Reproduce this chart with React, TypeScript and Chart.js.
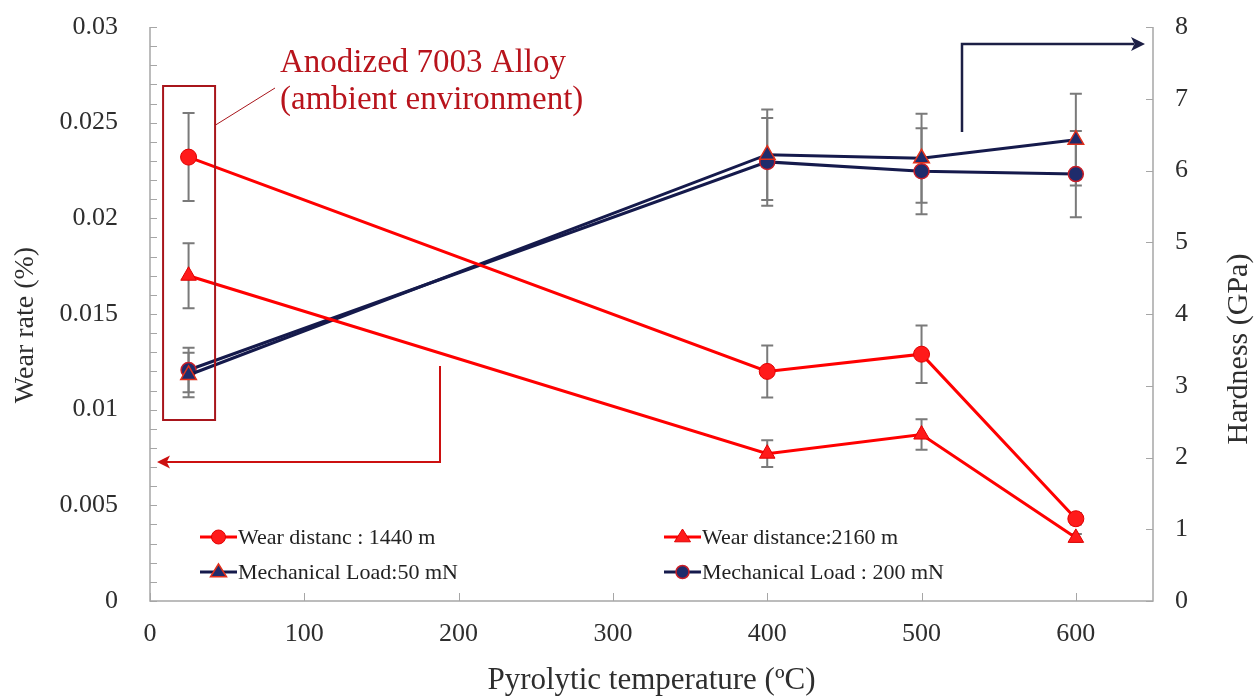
import React, { useEffect, useRef } from 'react';
import { Chart, registerables } from 'chart.js';

Chart.register(...registerables);

// Pyrolytic temperature (°C) of each sample
const temperatures = [25, 400, 500, 600];

// Wear rate (%) with standard deviation
const wear1440 = [0.0232, 0.012, 0.0129, 0.0043];
const wear1440Err = [0.0023, 0.00136, 0.0015, 0.0003];
const wear2160 = [0.017, 0.0077, 0.0087, 0.0033];
const wear2160Err = [0.0017, 0.0007, 0.0008, 0.0002];

// Hardness (GPa) with standard deviation
const hard50 = [3.15, 6.22, 6.17, 6.43];
const hard50Err = [0.31, 0.63, 0.62, 0.64];
const hard200 = [3.22, 6.12, 5.99, 5.95];
const hard200Err = [0.31, 0.61, 0.6, 0.6];

const seriesLabels = [
  'Wear distanc : 1440 m',
  'Wear distance:2160 m',
  'Mechanical Load:50 mN',
  'Mechanical Load : 200 mN',
];

const xTickValues = [0, 100, 200, 300, 400, 500, 600];
const wearTickValues = [0, 0.005, 0.01, 0.015, 0.02, 0.025, 0.03];
const hardTickValues = [0, 1, 2, 3, 4, 5, 6, 7, 8];

const annotationLines = ['Anodized 7003 Alloy', '(ambient environment)'];
const xTitle = 'Pyrolytic temperature (ºC)';
const wearTitle = 'Wear rate (%)';
const hardTitle = 'Hardness (GPa)';

const SERIF = '"Liberation Serif", "DejaVu Serif", serif';
const RED = '#ff0000';
const NAVY = '#151a4c';
const NAVY_FILL = '#1f2c6c';
const AXIS_GRAY = '#a6a6a6';
const TEXT = '#2e2e2e';

const errorSets = [wear1440Err, wear2160Err, hard50Err, hard200Err];

const toPoints = (ys: number[]) => temperatures.map((x, i) => ({ x, y: ys[i] }));

const isMultiple = (v: number, step: number) => Math.abs(v / step - Math.round(v / step)) < 1e-6;

// Grey error bars with caps, drawn beneath the series
const errorBarPlugin = {
  id: 'errorBars',
  beforeDatasetsDraw(chart: any) {
    const ctx = chart.ctx;
    ctx.save();
    ctx.strokeStyle = '#7a7a7a';
    ctx.lineWidth = 2;
    chart.data.datasets.forEach((ds: any, di: number) => {
      const meta = chart.getDatasetMeta(di);
      const yScale = chart.scales[ds.yAxisID];
      const errs = errorSets[di];
      meta.data.forEach((pt: any, j: number) => {
        const v = ds.data[j].y;
        const e = errs[j];
        const top = yScale.getPixelForValue(v + e);
        const bot = yScale.getPixelForValue(v - e);
        const x = pt.x;
        ctx.beginPath();
        ctx.moveTo(x, top);
        ctx.lineTo(x, bot);
        ctx.moveTo(x - 6, top);
        ctx.lineTo(x + 6, top);
        ctx.moveTo(x - 6, bot);
        ctx.lineTo(x + 6, bot);
        ctx.stroke();
      });
    });
    ctx.restore();
  },
};

function drawMarker(ctx: CanvasRenderingContext2D, style: string, x: number, y: number, r: number, fill: string, stroke: string, lw: number) {
  ctx.beginPath();
  if (style === 'triangle') {
    ctx.moveTo(x, y - r);
    ctx.lineTo(x - r, y + r * 0.6);
    ctx.lineTo(x + r, y + r * 0.6);
    ctx.closePath();
  } else {
    ctx.arc(x, y, r, 0, Math.PI * 2);
  }
  ctx.fillStyle = fill;
  ctx.fill();
  ctx.lineWidth = lw;
  ctx.strokeStyle = stroke;
  ctx.stroke();
}

function arrowHead(ctx: CanvasRenderingContext2D, x: number, y: number, dir: number, size: number, color: string) {
  ctx.beginPath();
  ctx.moveTo(x, y);
  ctx.lineTo(x - dir * size, y - size * 0.5);
  ctx.lineTo(x - dir * size * 0.75, y);
  ctx.lineTo(x - dir * size, y + size * 0.5);
  ctx.closePath();
  ctx.fillStyle = color;
  ctx.fill();
}

// Axis frame, inward tick marks, rotated axis titles, legend and callouts
const decorPlugin = {
  id: 'decor',
  afterDatasetsDraw(chart: any) {
    const ctx: CanvasRenderingContext2D = chart.ctx;
    const { left, right, top, bottom } = chart.chartArea;
    const xs = chart.scales.x;
    const yw = chart.scales.yWear;
    const yh = chart.scales.yHard;

    ctx.save();
    // axis lines
    ctx.strokeStyle = AXIS_GRAY;
    ctx.lineWidth = 1.5;
    ctx.beginPath();
    ctx.moveTo(left, top);
    ctx.lineTo(left, bottom);
    ctx.lineTo(right, bottom);
    ctx.lineTo(right, top);
    ctx.stroke();

    // tick marks
    ctx.lineWidth = 1;
    ctx.beginPath();
    yw.ticks.forEach((t: any) => {
      const py = Math.round(yw.getPixelForValue(t.value)) + 0.5;
      ctx.moveTo(left, py);
      ctx.lineTo(left + 7, py);
    });
    hardTickValues.forEach((v) => {
      const py = Math.round(yh.getPixelForValue(v)) + 0.5;
      ctx.moveTo(right, py);
      ctx.lineTo(right - 7, py);
    });
    xTickValues.forEach((v) => {
      const px = Math.round(xs.getPixelForValue(v)) + 0.5;
      ctx.moveTo(px, bottom);
      ctx.lineTo(px, bottom - 8);
    });
    ctx.stroke();

    // vertical axis titles
    ctx.fillStyle = TEXT;
    ctx.textAlign = 'center';
    ctx.textBaseline = 'middle';
    ctx.font = `28px ${SERIF}`;
    ctx.save();
    ctx.translate(26, 325);
    ctx.rotate(-Math.PI / 2);
    ctx.fillText(wearTitle, 0, 0);
    ctx.restore();
    ctx.save();
    ctx.font = `30px ${SERIF}`;
    ctx.translate(1239, 349);
    ctx.rotate(-Math.PI / 2);
    ctx.fillText(hardTitle, 0, 0);
    ctx.restore();

    // legend in two columns inside the plot
    const legendSlots = [
      { x: 200, y: 537 },
      { x: 664, y: 537 },
      { x: 200, y: 572 },
      { x: 664, y: 572 },
    ];
    ctx.font = `22px ${SERIF}`;
    ctx.textAlign = 'left';
    chart.data.datasets.forEach((ds: any, i: number) => {
      const s = legendSlots[i];
      ctx.strokeStyle = ds.borderColor;
      ctx.lineWidth = 3;
      ctx.beginPath();
      ctx.moveTo(s.x, s.y);
      ctx.lineTo(s.x + 37, s.y);
      ctx.stroke();
      drawMarker(ctx, ds.pointStyle, s.x + 18.5, s.y, ds.pointRadius - 1, ds.pointBackgroundColor, ds.pointBorderColor, ds.pointBorderWidth);
      ctx.fillStyle = '#222222';
      ctx.fillText(seriesLabels[i], s.x + 38, s.y + 1);
    });

    // box around the as-anodized samples and its label
    const x25 = xs.getPixelForValue(temperatures[0]);
    ctx.strokeStyle = '#a8151b';
    ctx.lineWidth = 2;
    ctx.strokeRect(x25 - 25.5, 86, 52, 334);
    ctx.lineWidth = 1;
    ctx.beginPath();
    ctx.moveTo(x25 + 27, 125);
    ctx.lineTo(275, 88);
    ctx.stroke();
    ctx.fillStyle = '#b8141c';
    ctx.font = `33px ${SERIF}`;
    ctx.fillText(annotationLines[0], 280, 63);
    ctx.fillText(annotationLines[1], 280, 100);

    // arrow pointing the wear-rate series to the left axis
    ctx.strokeStyle = '#cc1010';
    ctx.lineWidth = 2;
    ctx.beginPath();
    ctx.moveTo(440, 366);
    ctx.lineTo(440, 462);
    ctx.lineTo(166, 462);
    ctx.stroke();
    arrowHead(ctx, 157, 462, -1, 13, '#cc1010');

    // arrow pointing the hardness series to the right axis
    ctx.strokeStyle = '#1c1f45';
    ctx.lineWidth = 2.5;
    ctx.beginPath();
    ctx.moveTo(962, 132);
    ctx.lineTo(962, 44);
    ctx.lineTo(1134, 44);
    ctx.stroke();
    arrowHead(ctx, 1145, 44, 1, 14, '#1c1f45');

    ctx.restore();
  },
};

// Vertical scales: fixed width, no extra label padding above/below the plot
const fitVertical = (width: number) => (s: any) => {
  s.width = width;
  s.paddingTop = 0;
  s.paddingBottom = 0;
};

export default function App() {
  const canvasRef = useRef<HTMLCanvasElement | null>(null);

  useEffect(() => {
    document.body.style.margin = '0';
    const canvas = canvasRef.current;
    if (!canvas) return;

    const chart = new Chart(canvas, {
      type: 'line',
      data: {
        datasets: [
          {
            label: seriesLabels[0],
            data: toPoints(wear1440),
            yAxisID: 'yWear',
            borderColor: RED,
            borderWidth: 3,
            pointStyle: 'circle',
            pointRadius: 8,
            pointBackgroundColor: '#ff1a1a',
            pointBorderColor: '#e00000',
            pointBorderWidth: 1,
          },
          {
            label: seriesLabels[1],
            data: toPoints(wear2160),
            yAxisID: 'yWear',
            borderColor: RED,
            borderWidth: 3,
            pointStyle: 'triangle',
            pointRadius: 9,
            pointBackgroundColor: '#ff1a1a',
            pointBorderColor: '#e00000',
            pointBorderWidth: 1,
          },
          {
            label: seriesLabels[2],
            data: toPoints(hard50),
            yAxisID: 'yHard',
            borderColor: NAVY,
            borderWidth: 3,
            pointStyle: 'triangle',
            pointRadius: 9,
            pointBackgroundColor: NAVY_FILL,
            pointBorderColor: '#e0301c',
            pointBorderWidth: 1.5,
          },
          {
            label: seriesLabels[3],
            data: toPoints(hard200),
            yAxisID: 'yHard',
            borderColor: NAVY,
            borderWidth: 3,
            pointStyle: 'circle',
            pointRadius: 7.5,
            pointBackgroundColor: NAVY_FILL,
            pointBorderColor: '#c81e28',
            pointBorderWidth: 1.5,
          },
        ],
      },
      options: {
        animation: false,
        responsive: false,
        maintainAspectRatio: false,
        layout: { padding: { top: 27, left: 0, right: 0, bottom: 0 } },
        plugins: {
          legend: { display: false },
          tooltip: { enabled: false },
        },
        elements: { line: { tension: 0 } },
        scales: {
          x: {
            type: 'linear',
            min: 0,
            max: 650,
            afterFit: (s: any) => { s.height = 98; },
            afterBuildTicks: (s: any) => { s.ticks = xTickValues.map((v) => ({ value: v })); },
            grid: { display: false, drawTicks: false },
            border: { display: false },
            ticks: {
              autoSkip: false,
              maxRotation: 0,
              padding: 18,
              color: TEXT,
              font: { family: SERIF, size: 26 },
              callback: (v: any) => String(v),
            },
            title: {
              display: true,
              text: xTitle,
              color: TEXT,
              font: { family: SERIF, size: 31 },
              padding: { top: 8, bottom: 0 },
            },
          },
          yWear: {
            type: 'linear',
            position: 'left',
            min: 0,
            max: 0.03,
            afterFit: fitVertical(150),
            afterBuildTicks: (s: any) => {
              const t = [];
              for (let i = 0; i <= 30; i++) t.push({ value: i / 1000 });
              s.ticks = t;
            },
            grid: { display: false, drawTicks: false },
            border: { display: false },
            ticks: {
              autoSkip: false,
              padding: 32,
              color: TEXT,
              font: { family: SERIF, size: 26 },
              callback: (v: any) => {
                const n = Number(v);
                if (!isMultiple(n, 0.005)) return '';
                const hit = wearTickValues.find((w) => Math.abs(w - n) < 1e-9);
                return hit === undefined ? '' : String(hit);
              },
            },
          },
          yHard: {
            type: 'linear',
            position: 'right',
            min: 0,
            max: 8,
            afterFit: fitVertical(104),
            afterBuildTicks: (s: any) => { s.ticks = hardTickValues.map((v) => ({ value: v })); },
            grid: { display: false, drawTicks: false },
            border: { display: false },
            ticks: {
              autoSkip: false,
              padding: 22,
              color: TEXT,
              font: { family: SERIF, size: 26 },
              callback: (v: any) => String(v),
            },
          },
        },
      },
      plugins: [errorBarPlugin, decorPlugin],
    });

    return () => chart.destroy();
  }, []);

  return (
    <div style={{ position: 'relative', width: 1257, height: 699, background: '#ffffff' }}>
      <canvas ref={canvasRef} width={1257} height={699} style={{ display: 'block', width: 1257, height: 699 }} />
    </div>
  );
}
